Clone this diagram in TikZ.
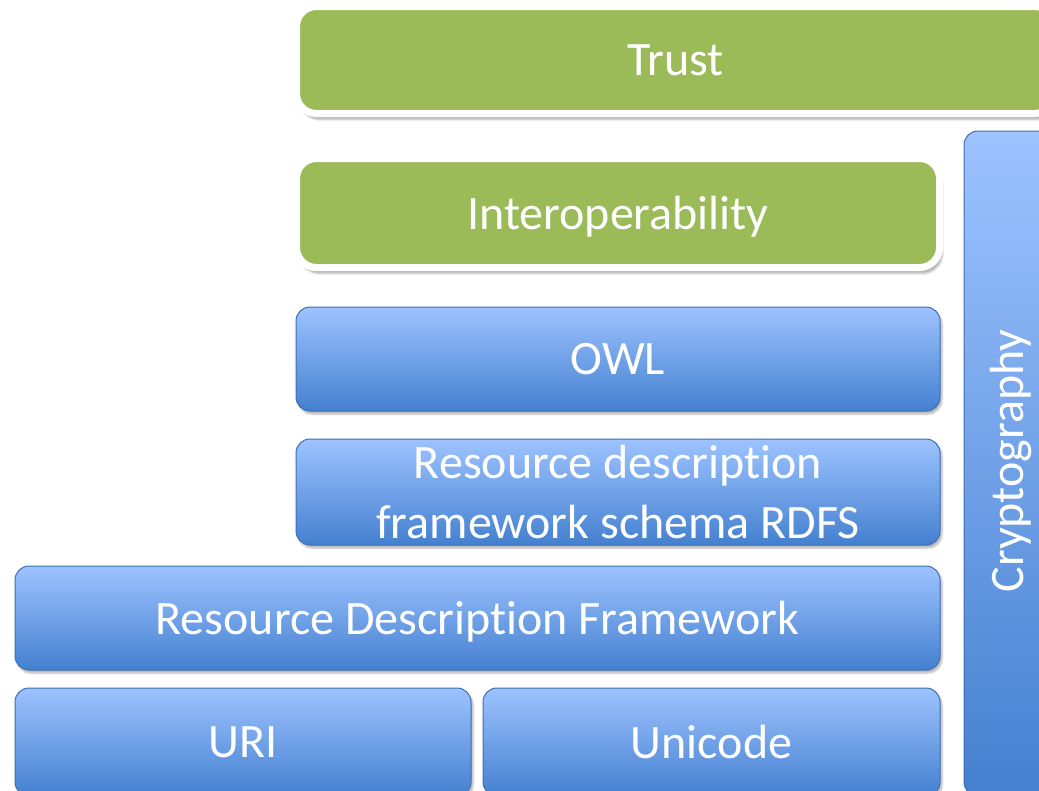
\documentclass[tikz,border=0pt]{standalone}
\usepackage{fontspec}
\setmainfont[Ligatures=NoCommon]{Carlito}
\usetikzlibrary{shadows.blur}
\definecolor{layergreen}{HTML}{9BBB59}
\definecolor{layertop}{HTML}{9DC3FF}
\definecolor{layerbottom}{HTML}{4480D0}
\definecolor{layerline}{HTML}{3C6FB5}
\tikzset{
    layerfont/.style={text=white, font=\fontsize{48}{60}\selectfont},
    bluelayer/.style={layerfont, anchor=north west, inner sep=0pt, outer sep=0pt, align=center,
        text depth=0pt, draw=layerline, line width=1pt, rounded corners=14pt,
        top color=layertop, bottom color=layerbottom,
        blur shadow={shadow xshift=2pt, shadow yshift=-3pt, shadow blur steps=6, shadow opacity=30}},
    greenlayer/.style={layerfont, anchor=north west, inner sep=0pt, outer sep=0pt,
        text depth=0pt, draw=white, line width=7pt, rounded corners=20pt, fill=layergreen,
        blur shadow={shadow xshift=3pt, shadow yshift=-6pt, shadow blur steps=6, shadow opacity=30}},
}

\begin{document}
\begin{tikzpicture}[x=1pt, y=-1pt]
    \useasboundingbox (0,0) rectangle (1039,790);
    \clip (0,0) rectangle (1039,790);
    % top layers
    \node[greenlayer, minimum width=758pt, minimum height=107pt] (trust) at (296.5,6.5) {Trust};
    \node[greenlayer, minimum width=643pt, minimum height=109pt] (interop) at (296.5,158.5) {Interoperability};
    % side column
    \node[bluelayer, minimum width=102pt, minimum height=665pt] (cryptobox) at (964,131) {};
        \node[layerfont, rotate=90] (crypto) at (1011,461) {Cryptography};
    % stack
    \node[bluelayer, minimum width=644pt, minimum height=104pt] (owl) at (296,307) {OWL};
    \node[bluelayer, minimum width=644pt, minimum height=106pt] (rdfs) at (296,439)
        {Resource description\\framework schema RDFS};
    \node[bluelayer, minimum width=925pt, minimum height=104pt] (rdf) at (15,566) {Resource Description Framework};
    \node[bluelayer, minimum width=456pt, minimum height=108pt] (uri) at (15,688) {URI};
    \node[bluelayer, minimum width=457pt, minimum height=108pt] (unicode) at (483,688) {Unicode};
\end{tikzpicture}
\end{document}
